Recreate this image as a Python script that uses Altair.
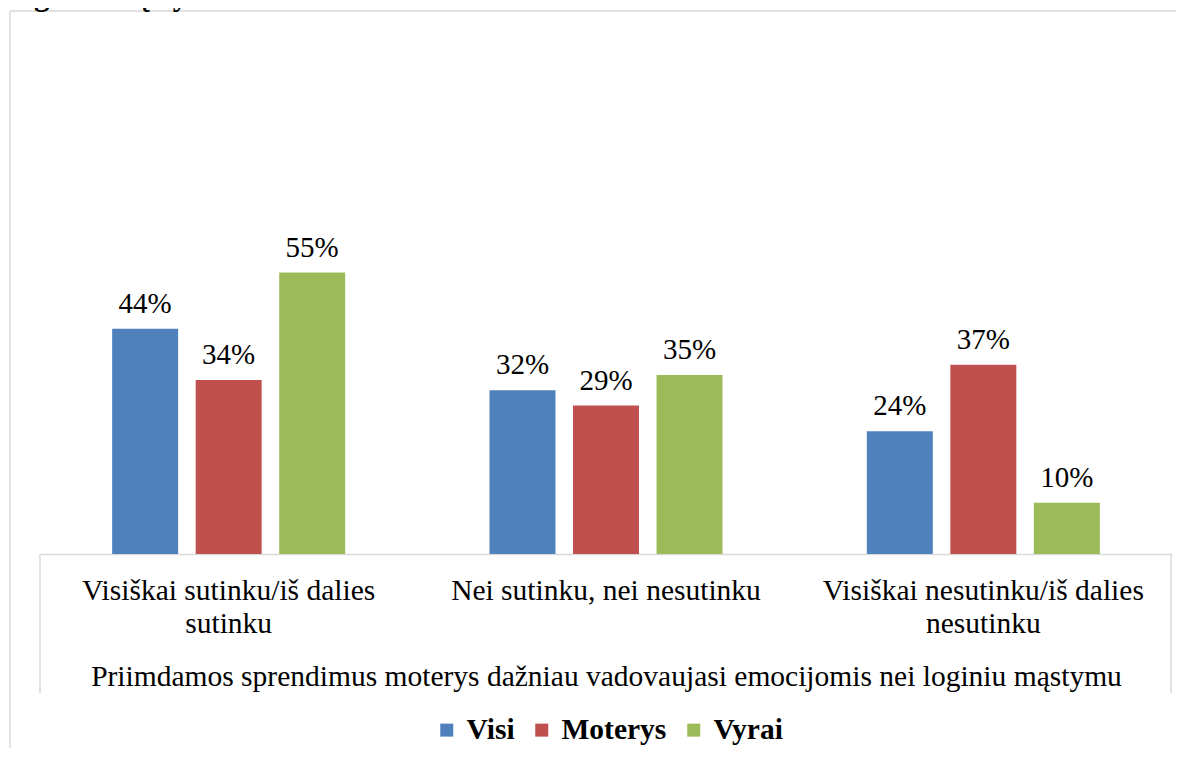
import json
import altair as alt
import pandas as pd

categories = [
    "Visiškai sutinku/iš dalies sutinku",
    "Nei sutinku, nei nesutinku",
    "Visiškai nesutinku/iš dalies nesutinku",
]
category_lines = [
    ["Visiškai sutinku/iš dalies", "sutinku"],
    ["Nei sutinku, nei nesutinku"],
    ["Visiškai nesutinku/iš dalies", "nesutinku"],
]
series = ["Visi", "Moterys", "Vyrai"]
visi = [44, 32, 24]
moterys = [34, 29, 37]
vyrai = [55, 35, 10]
colors = ["#4F81BD", "#C0504D", "#9BBB59"]
x_title = "Priimdamos sprendimus moterys dažniau vadovaujasi emocijomis nei loginiu mąstymu"
top_title = "loginiu mąstymu"

rows = []
for s, vals in zip(series, [visi, moterys, vyrai]):
    for c, v in zip(categories, vals):
        rows.append({"cat": c, "series": s, "value": v, "label": f"{v}%"})
df = pd.DataFrame(rows)

# multi-line tick labels
expr = "[]"
for c, lines in reversed(list(zip(categories, category_lines))):
    expr = f"datum.value == {json.dumps(c)} ? {json.dumps(lines)} : {expr}"

FONT = "Liberation Serif"
FS = 29.5
W, H = 1132, 307
PAD_L, PAD_T, PAD_R, PAD_B = 32, 239, 4, 194
TOTAL_W = PAD_L + W + PAD_R
TOTAL_H = PAD_T + H + PAD_B

x_enc = alt.X(
    "cat:N",
    sort=categories,
    scale=alt.Scale(paddingInner=0, paddingOuter=0),
    axis=alt.Axis(
        title=x_title,
        labelExpr=expr,
        labelAngle=0,
        labelFont=FONT,
        labelFontSize=FS,
        labelColor="#000000",
        labelLineHeight=33,
        labelPadding=22,
        ticks=False,
        grid=False,
        domainColor="#d9d9d9",
        domainWidth=1.5,
        titleFont=FONT,
        titleFontSize=FS,
        titleFontWeight="normal",
        titleColor="#000000",
        titleBaseline="alphabetic",
        titleY=131,
        labelLimit=0,
    ),
)
xoff = alt.XOffset(
    "series:N",
    sort=series,
    scale=alt.Scale(paddingInner=0.21, paddingOuter=0.864),
)
y_enc = alt.Y("value:Q", scale=alt.Scale(domain=[0, 60]), axis=None)

base = alt.Chart(df).encode(x=x_enc, xOffset=xoff)

bars = base.mark_bar().encode(
    y=y_enc,
    color=alt.Color(
        "series:N",
        sort=series,
        scale=alt.Scale(domain=series, range=colors),
        legend=alt.Legend(
            title=None,
            orient="none",
            direction="horizontal",
            legendX=392,
            legendY=468,
            symbolType="square",
            symbolSize=169,
            symbolStrokeWidth=0,
            labelFont=FONT,
            labelFontSize=FS,
            labelFontWeight="bold",
            labelColor="#000000",
            labelOffset=5,
            columnPadding=12,
        ),
    ),
)

labels = base.mark_text(
    font=FONT, fontSize=29, color="#000000", baseline="alphabetic", dy=-16
).encode(y=y_enc, text="label:N")

frame_data = alt.Data(values=[{"k": 1}])
line_style = dict(color="#d9d9d9", strokeWidth=1.5)
frame_top = alt.Chart(frame_data).mark_rule(**line_style).encode(
    x=alt.value(-30), x2=alt.value(TOTAL_W - PAD_L), y=alt.value(-236)
)
frame_left = alt.Chart(frame_data).mark_rule(**line_style).encode(
    x=alt.value(-30), y=alt.value(-236), y2=alt.value(TOTAL_H - PAD_T)
)
box_left = alt.Chart(frame_data).mark_rule(**line_style).encode(
    x=alt.value(0), y=alt.value(H), y2=alt.value(H + 139)
)
box_right = alt.Chart(frame_data).mark_rule(**line_style).encode(
    x=alt.value(W - 1), y=alt.value(H), y2=alt.value(H + 139)
)
title_txt = alt.Chart(alt.Data(values=[{"t": top_title}])).mark_text(
    font=FONT, fontSize=31, fontWeight="bold", color="#000000",
    align="left", baseline="alphabetic"
).encode(x=alt.value(-30), y=alt.value(-242), text="t:N")

chart = (
    alt.layer(frame_top, frame_left, box_left, box_right, bars, labels, title_txt)
    .properties(
        width=W,
        height=H,
        autosize=alt.AutoSizeParams(type="none"),
        padding={"left": PAD_L, "top": PAD_T, "right": PAD_R, "bottom": PAD_B},
        view=alt.ViewBackground(strokeWidth=0, stroke="transparent"),
    )
    .configure(font=FONT, background="#ffffff")
    .configure_view(strokeWidth=0, stroke="transparent")
)

chart.save("out.html", embed_options={"renderer": "svg", "actions": False})
